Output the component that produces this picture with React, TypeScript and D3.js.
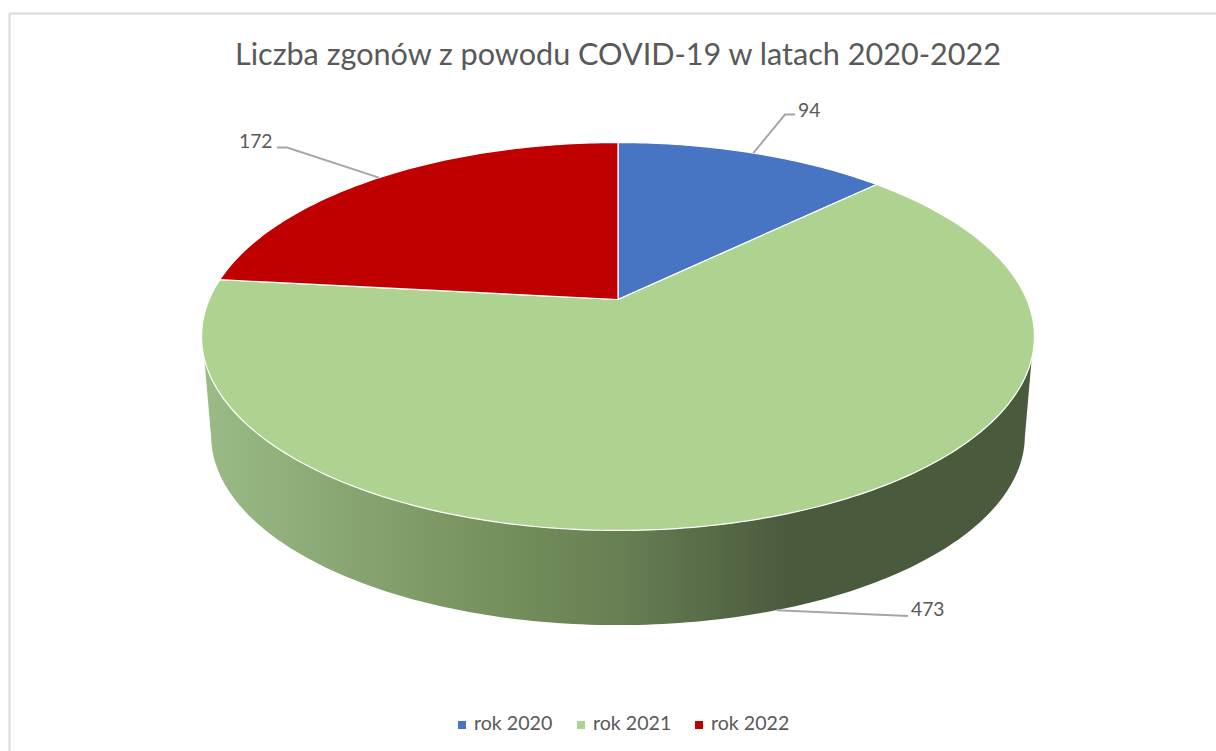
import React from "react";
import * as d3 from "d3";

const title = "Liczba zgonów z powodu COVID-19 w latach 2020-2022";
const categories = ["rok 2020", "rok 2021", "rok 2022"];
const deaths = [94, 473, 172];
const colors = ["#4874c4", "#aed28f", "#c00000"];
const sideStops = [
  { x: 205, c: "#9abb86" },
  { x: 480, c: "#78925f" },
  { x: 620, c: "#677f53" },
  { x: 790, c: "#4a5a3d" },
  { x: 1034, c: "#4a5a3d" },
];
const labelLayout = [
  { x: 798, y: 117, elbow: [[785, 114.5], [795, 114.5]] },
  { x: 911, y: 616, elbow: [[908, 616]] },
  { x: 239, y: 148, elbow: [[287, 147.5], [277, 147.5]] },
];
const legendX = [458, 577, 695];

const fontFamily = "Lato, 'Open Sans', sans-serif";
const apex = { x: 618, y: 299.5 };
const persp = 0.1907;
const A = 408.8;
const B = 186.9;
const bottomScale = 0.977;
const bottomDy = 100;

type P = [number, number];
const project = (a: number, bottom = false): P => {
  const X = Math.sin(a);
  const Y = -Math.cos(a);
  const d = 1 - persp * Y;
  const s = bottom ? bottomScale : 1;
  return [apex.x + (s * A * X) / d, apex.y + (bottom ? bottomDy : 0) + (s * B * Y) / d];
};
const arcPts = (a0: number, a1: number, bottom = false): P[] => {
  const n = Math.max(2, Math.ceil(Math.abs(a1 - a0) * 60));
  return d3.range(n + 1).map((i) => project(a0 + ((a1 - a0) * i) / n, bottom));
};
const line = d3.line<P>().x((d) => d[0]).y((d) => d[1]);

const arcs = d3.pie<number>().sort(null).startAngle(0).endAngle(2 * Math.PI)(deaths);

// Where the side's silhouette leaves each disc, either side of the front
const tangentTop = (72.6 * Math.PI) / 180;
const tangentBottom = (78.5 * Math.PI) / 180;
const sidePts: P[] = [
  ...arcPts(Math.PI - tangentTop, Math.PI + tangentTop),
  ...arcPts(Math.PI + tangentBottom, Math.PI - tangentBottom, true),
];

export default function App() {
  return (
    <svg
      width={1216}
      height={751}
      style={{ position: "absolute", left: 0, top: 0, display: "block", background: "#fff" }}
    >
      <defs>
        <linearGradient id="side" gradientUnits="userSpaceOnUse" x1={205} x2={1034} y1={0} y2={0}>
          {sideStops.map((s) => (
            <stop key={s.x} offset={(s.x - 205) / (1034 - 205)} stopColor={s.c} />
          ))}
        </linearGradient>
      </defs>
      <path d="M9.5,751V13.5H1216" fill="none" stroke="#d9d9d9" strokeWidth={2} />
      <text x={618} y={64.5} textAnchor="middle" fontFamily={fontFamily} fontSize={30.6} fill="#595959">
        {title}
      </text>
      <path d={line(sidePts) + "Z"} fill="url(#side)" />
      {arcs.map((d, i) => {
        const pts: P[] = [[apex.x, apex.y], ...arcPts(d.startAngle, d.endAngle)];
        return <path key={i} d={line(pts) + "Z"} fill={colors[i]} stroke="#fff" strokeWidth={1.2} strokeLinejoin="round" />;
      })}
      {arcs.map((d, i) => {
        const mid = (d.startAngle + d.endAngle) / 2;
        const anchor = project(mid, Math.cos(mid) < 0);
        const l = labelLayout[i];
        return (
          <g key={i}>
            <path d={line([anchor, ...(l.elbow as P[])]) ?? ""} fill="none" stroke="#a6a6a6" strokeWidth={2} />
            <text x={l.x} y={l.y} fontFamily={fontFamily} fontSize={19.3} fill="#595959">
              {deaths[i]}
            </text>
          </g>
        );
      })}
      {categories.map((c, i) => (
        <g key={c}>
          <rect x={legendX[i]} y={721} width={8} height={8} fill={colors[i]} />
          <text x={legendX[i] + 16} y={730} fontFamily={fontFamily} fontSize={19.6} fill="#595959">
            {c}
          </text>
        </g>
      ))}
    </svg>
  );
}
